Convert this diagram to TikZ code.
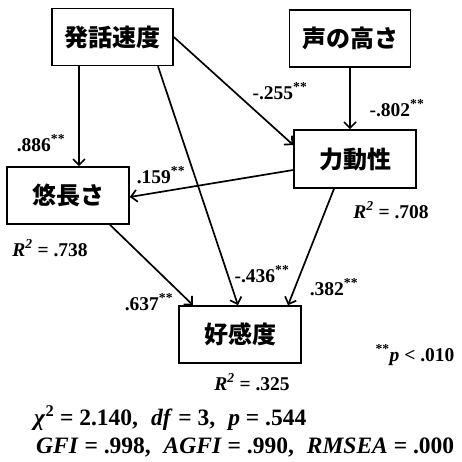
\documentclass[tikz,border=0pt]{standalone}
\usepackage{fontspec}
\setmainfont{Liberation Serif}
\newfontfamily\jp{Noto Sans CJK JP}
\usetikzlibrary{arrows.meta}
\tikzset{
  box/.style={draw, line width=1.6pt, minimum width=121pt, minimum height=57pt, inner sep=0pt, font=\jp\bfseries\fontsize{24}{26}\selectfont},
  conn/.style={line width=1.7pt, -{Straight Barb[length=6pt,width=12pt,line width=1.7pt]}},
  lab/.style={inner sep=0pt, font=\bfseries\fontsize{19.5}{22}\selectfont},
  fit/.style={inner sep=0pt, font=\bfseries\fontsize{23.5}{27}\selectfont},
}
\newcommand{\sig}{\textsuperscript{**}}
\newcommand{\cm}{,\hspace{0.55em}}
\begin{document}
\begin{tikzpicture}[x=1pt,y=-1pt]
\useasboundingbox (0,0) rectangle (462,461);
\node[box] (hatsuwa) at (112.5,37) {発話速度};
\node[box] (koe) at (350,38.5) {声の高さ};
\node[box, minimum width=122pt, minimum height=58pt] (rikidou) at (355,159) {力動性};
\node[box, minimum width=122pt] (yuuchou) at (68,195.5) {悠長さ};
\node[box, minimum width=122pt] (koukan) at (240,334.5) {好感度};

\draw[conn] ([xshift=-33.5pt]hatsuwa.south) -- ([xshift=11pt]yuuchou.north);
\draw[conn] (hatsuwa.east) -- ([yshift=14pt]rikidou.west);
\draw[conn] ([xshift=45.5pt]hatsuwa.south) -- ([xshift=-2pt]koukan.north);
\draw[conn] (koe.south) -- ([xshift=-5pt]rikidou.north);
\draw[conn] ([yshift=-11pt]rikidou.west) -- ([yshift=-1.5pt]yuuchou.east);
\draw[conn] ([xshift=-21pt]rikidou.south) -- ([xshift=48pt]koukan.north);
\draw[conn] ([xshift=42pt]yuuchou.south) -- ([xshift=-47pt]koukan.north);

\node[lab] (l1) at (41,143) {.886\sig};
\node[lab] (l2) at (280,91) {-.255\sig};
\node[lab] (l3) at (397,108) {-.802\sig};
\node[lab] (l4) at (161,175) {.159\sig};
\node[lab] (r1) at (391,210) {\textit{R}\textsuperscript{\textit{2}} = .708};
\node[lab] (r2) at (50,248) {\textit{R}\textsuperscript{\textit{2}} = .738};
\node[lab] (l5) at (262,274) {-.436\sig};
\node[lab] (l6) at (334,287) {.382\sig};
\node[lab] (l7) at (149,302) {.637\sig};
\node[lab] (r3) at (252,382) {\textit{R}\textsuperscript{\textit{2}} = .325};
\node[lab] (pn) at (415,355) {\sig\textit{p} < .010};
\node[fit, anchor=west] (fit1) at (34,418) {\textit{χ}\textsuperscript{2} = 2.140\cm\textit{df} = 3\cm\textit{p} = .544};
\node[fit, anchor=west] (fit2) at (36,447) {\textit{GFI} = .998\cm\textit{AGFI} = .990\cm\textit{RMSEA} = .000};
\end{tikzpicture}
\end{document}
